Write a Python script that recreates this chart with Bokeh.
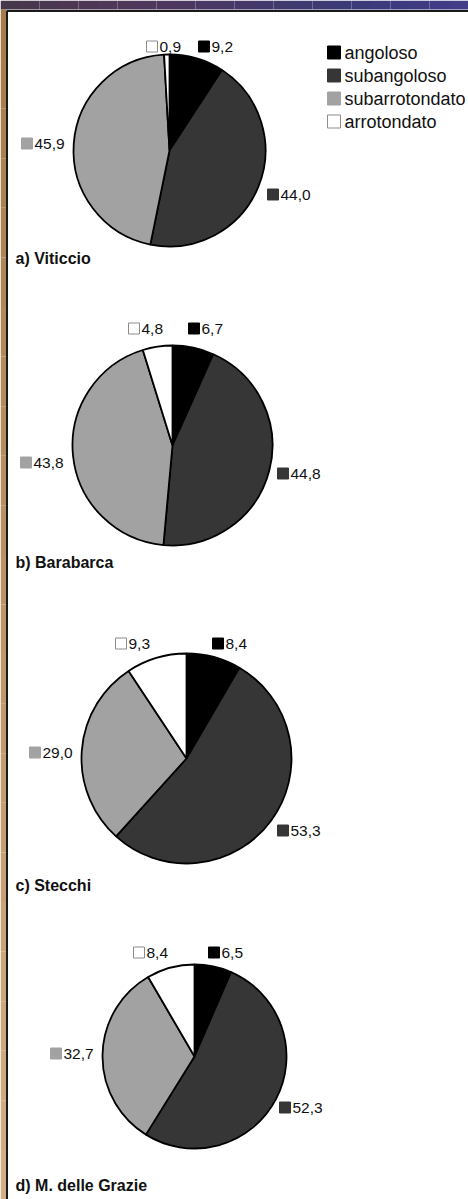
import numpy as np
from bokeh.plotting import figure
from bokeh.models import Range1d
from bokeh.embed import file_html
from bokeh.resources import INLINE
from bokeh.core.properties import value

W, H = 468, 1199

# ---------------- data ----------------
categories = ["angoloso", "subangoloso", "subarrotondato", "arrotondato"]
sites = ["a) Viticcio", "b) Barabarca", "c) Stecchi", "d) M. delle Grazie"]
viticcio = [9.2, 44.0, 45.9, 0.9]
barabarca = [6.7, 44.8, 43.8, 4.8]
stecchi = [8.4, 53.3, 29.0, 9.3]
grazie = [6.5, 52.3, 32.7, 8.4]
series = [viticcio, barabarca, stecchi, grazie]

# ---------------- style / layout ----------------
fill_colors = ["#000000", "#363636", "#a2a2a2", "#ffffff"]
square_lines = ["#000000", "#363636", "#a2a2a2", "#8c8c8c"]
FONT = "Liberation Sans"

# pixel layout, top-down: pie centre, radius, title y, label anchors (square left x, y)
layout = [
    dict(cx=169, cy=150, r=96, ty=258,
         lab=[(198, 46), (267, 194), (21, 143), (146, 46)]),
    dict(cx=172, cy=445, r=100, ty=562,
         lab=[(188, 328), (277, 473), (20, 462), (128, 328)]),
    dict(cx=186, cy=758, r=105, ty=885,
         lab=[(212, 643), (277, 830), (29, 752), (115, 643)]),
    dict(cx=194, cy=1056, r=92, ty=1185,
         lab=[(208, 952), (279, 1107), (50, 1053), (133, 952)]),
]


def Y(y):
    return H - y


p = figure(width=W, height=H, output_backend="svg", toolbar_location=None,
           x_range=Range1d(0, W), y_range=Range1d(0, H), min_border=0)
p.axis.visible = False
p.grid.visible = False
p.outline_line_color = None
p.background_fill_color = "white"
p.border_fill_color = "white"

# decorative background: top bar and left strip
n = 24
xs = np.linspace(0, W, n + 1)
top_cols = []
for i in range(n):
    t = i / (n - 1)
    r = int(70 + 10 * np.sin(t * 6)); g = int(55 + 5 * t); b = int(75 + 60 * t)
    top_cols.append("#%02x%02x%02x" % (r, g, b))
p.quad(left=xs[:-1], right=xs[1:], top=[Y(0)] * n, bottom=[Y(9)] * n,
       fill_color=top_cols, line_color=None)
ys = np.linspace(9, H, n + 1)
left_cols = []
for i in range(n):
    t = i / (n - 1)
    r = int(165 + 45 * t); g = int(125 + 50 * t); b = int(75 + 60 * t)
    left_cols.append("#%02x%02x%02x" % (r, g, b))
p.quad(left=[0] * n, right=[5.5] * n, top=[Y(v) for v in ys[:-1]],
       bottom=[Y(v) for v in ys[1:]], fill_color=left_cols, line_color=None)
# panel border
p.line([6.5, 6.5, W], [0, Y(10.5), Y(10.5)], line_color="#1a1a1a", line_width=2)

# ---------------- pies ----------------
for vals, lay, site in zip(series, layout, sites):
    v = np.array(vals, dtype=float)
    frac = v / v.sum()
    cum = np.concatenate([[0.0], np.cumsum(frac)])
    starts = np.pi / 2 - 2 * np.pi * cum[:-1]
    ends = np.pi / 2 - 2 * np.pi * cum[1:]
    p.wedge(x=[lay["cx"]] * 4, y=[Y(lay["cy"])] * 4, radius=lay["r"],
            start_angle=list(starts), end_angle=list(ends), direction="clock",
            fill_color=fill_colors, line_color="#000000", line_width=1.8)
    sx = [a[0] for a in lay["lab"]]
    sy = [Y(a[1]) for a in lay["lab"]]
    p.rect(x=[s + 5.5 for s in sx], y=sy, width=11, height=11,
           fill_color=fill_colors, line_color=square_lines, line_width=1)
    texts = [("%.1f" % val).replace(".", ",") for val in vals]
    p.text(x=[s + 13 for s in sx], y=sy, text=texts, text_font=value(FONT),
           text_font_size="15.5px", text_baseline="middle", text_align="left",
           text_color="#111111")
    p.text(x=[15], y=[Y(lay["ty"])], text=[site], text_font=value(FONT),
           text_font_size="16px", text_font_style="bold", text_baseline="middle",
           text_align="left", text_color="#111111")

# ---------------- legend ----------------
leg_y = [52, 75, 98, 121]
p.rect(x=[333.5] * 4, y=[Y(v) for v in leg_y], width=13, height=13,
       fill_color=fill_colors, line_color=square_lines, line_width=1)
p.text(x=[344] * 4, y=[Y(v) for v in leg_y], text=categories, text_font=value(FONT),
       text_font_size="18px", text_baseline="middle", text_align="left",
       text_color="#111111")

open("out.html", "w").write(file_html(p, INLINE))
